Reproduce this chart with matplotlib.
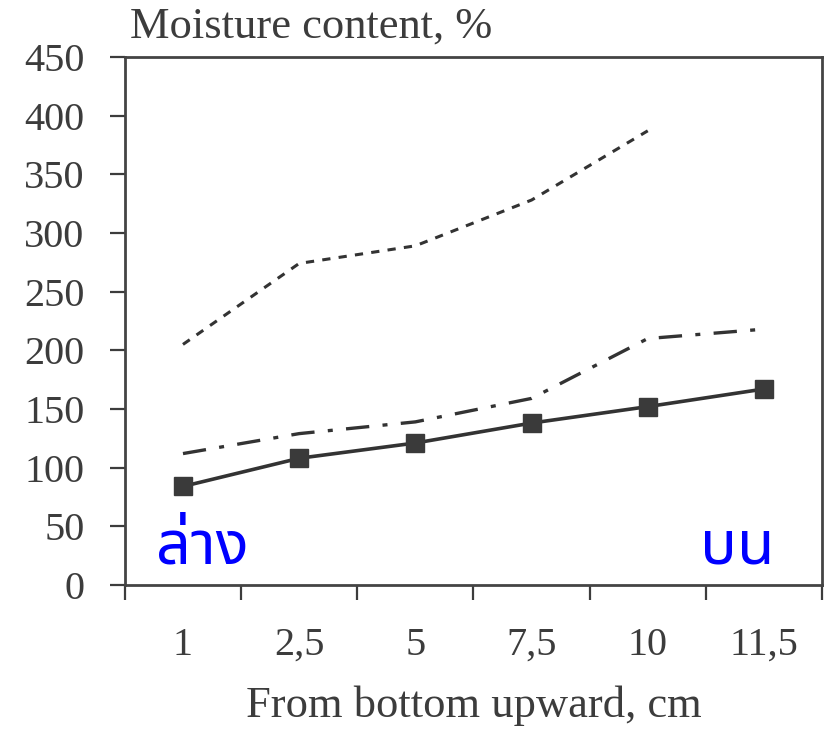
import matplotlib
matplotlib.use('Agg')
import matplotlib.pyplot as plt

positions = ['1', '2,5', '5', '7,5', '10', '11,5']
series_dotted = [205, 274, 289, 328, 387]
series_dashdot = [112, 129, 139, 159, 210, 218]
series_solid = [84, 108, 121, 138, 152, 167]
y_ticks = [0, 50, 100, 150, 200, 250, 300, 350, 400, 450]

plt.rcParams['font.family'] = ['Liberation Serif', 'DejaVu Serif']
txt = '#3c3c3c'
line_c = '#333333'

fig = plt.figure(figsize=(8.27, 7.29), dpi=100)
ax = fig.add_axes([0.151, 0.1975, 0.843, 0.7245])

x = list(range(len(positions)))
ax.plot(x[:len(series_dotted)], series_dotted, color=line_c, lw=2.2, dashes=(2.7, 2.7))
ax.plot(x, series_dashdot, color=line_c, lw=2.4, dashes=(7, 4, 1.5, 4))
ax.plot(x, series_solid, color=line_c, lw=2.6, marker='s', markersize=13,
        markerfacecolor='#3a3a3a', markeredgecolor='#3a3a3a')

ax.set_xlim(-0.5, len(positions) - 0.5)
ax.set_ylim(0, 450)
ax.set_yticks(y_ticks)
# ticks sit between the categories, labels in the middle
ax.set_xticks([i - 0.5 for i in range(len(positions) + 1)])
ax.set_xticklabels([])
ax.set_xticks(x, minor=True)
ax.set_xticklabels(positions, minor=True)
ax.tick_params(axis='x', which='minor', length=0, pad=30, labelsize=29, labelcolor=txt)
ax.tick_params(axis='x', which='major', length=11, width=1.6, direction='out', color=txt)
ax.tick_params(axis='y', length=11, width=1.6, direction='out', color=txt,
               labelsize=29, labelcolor=txt, pad=18)
for s in ax.spines.values():
    s.set_color('#444444')
    s.set_linewidth(2)

fig.text(0.157, 0.948, 'Moisture content, %', fontsize=32, color=txt, va='baseline')
ax.set_xlabel('From bottom upward, cm', fontsize=32, color=txt, labelpad=16)

thai = ['Noto Sans Thai', 'Loma', 'Garuda', 'Noto Sans', 'DejaVu Sans']
ax.text(0.045, 0.012, 'ล่าง', transform=ax.transAxes, color='#0000ff', fontsize=44,
        family=thai, fontweight='bold', ha='left', va='bottom')
ax.text(0.878, 0.012, 'บน', transform=ax.transAxes, color='#0000ff', fontsize=44,
        family=thai, fontweight='bold', ha='center', va='bottom')

fig.savefig('out.png', dpi=100)
